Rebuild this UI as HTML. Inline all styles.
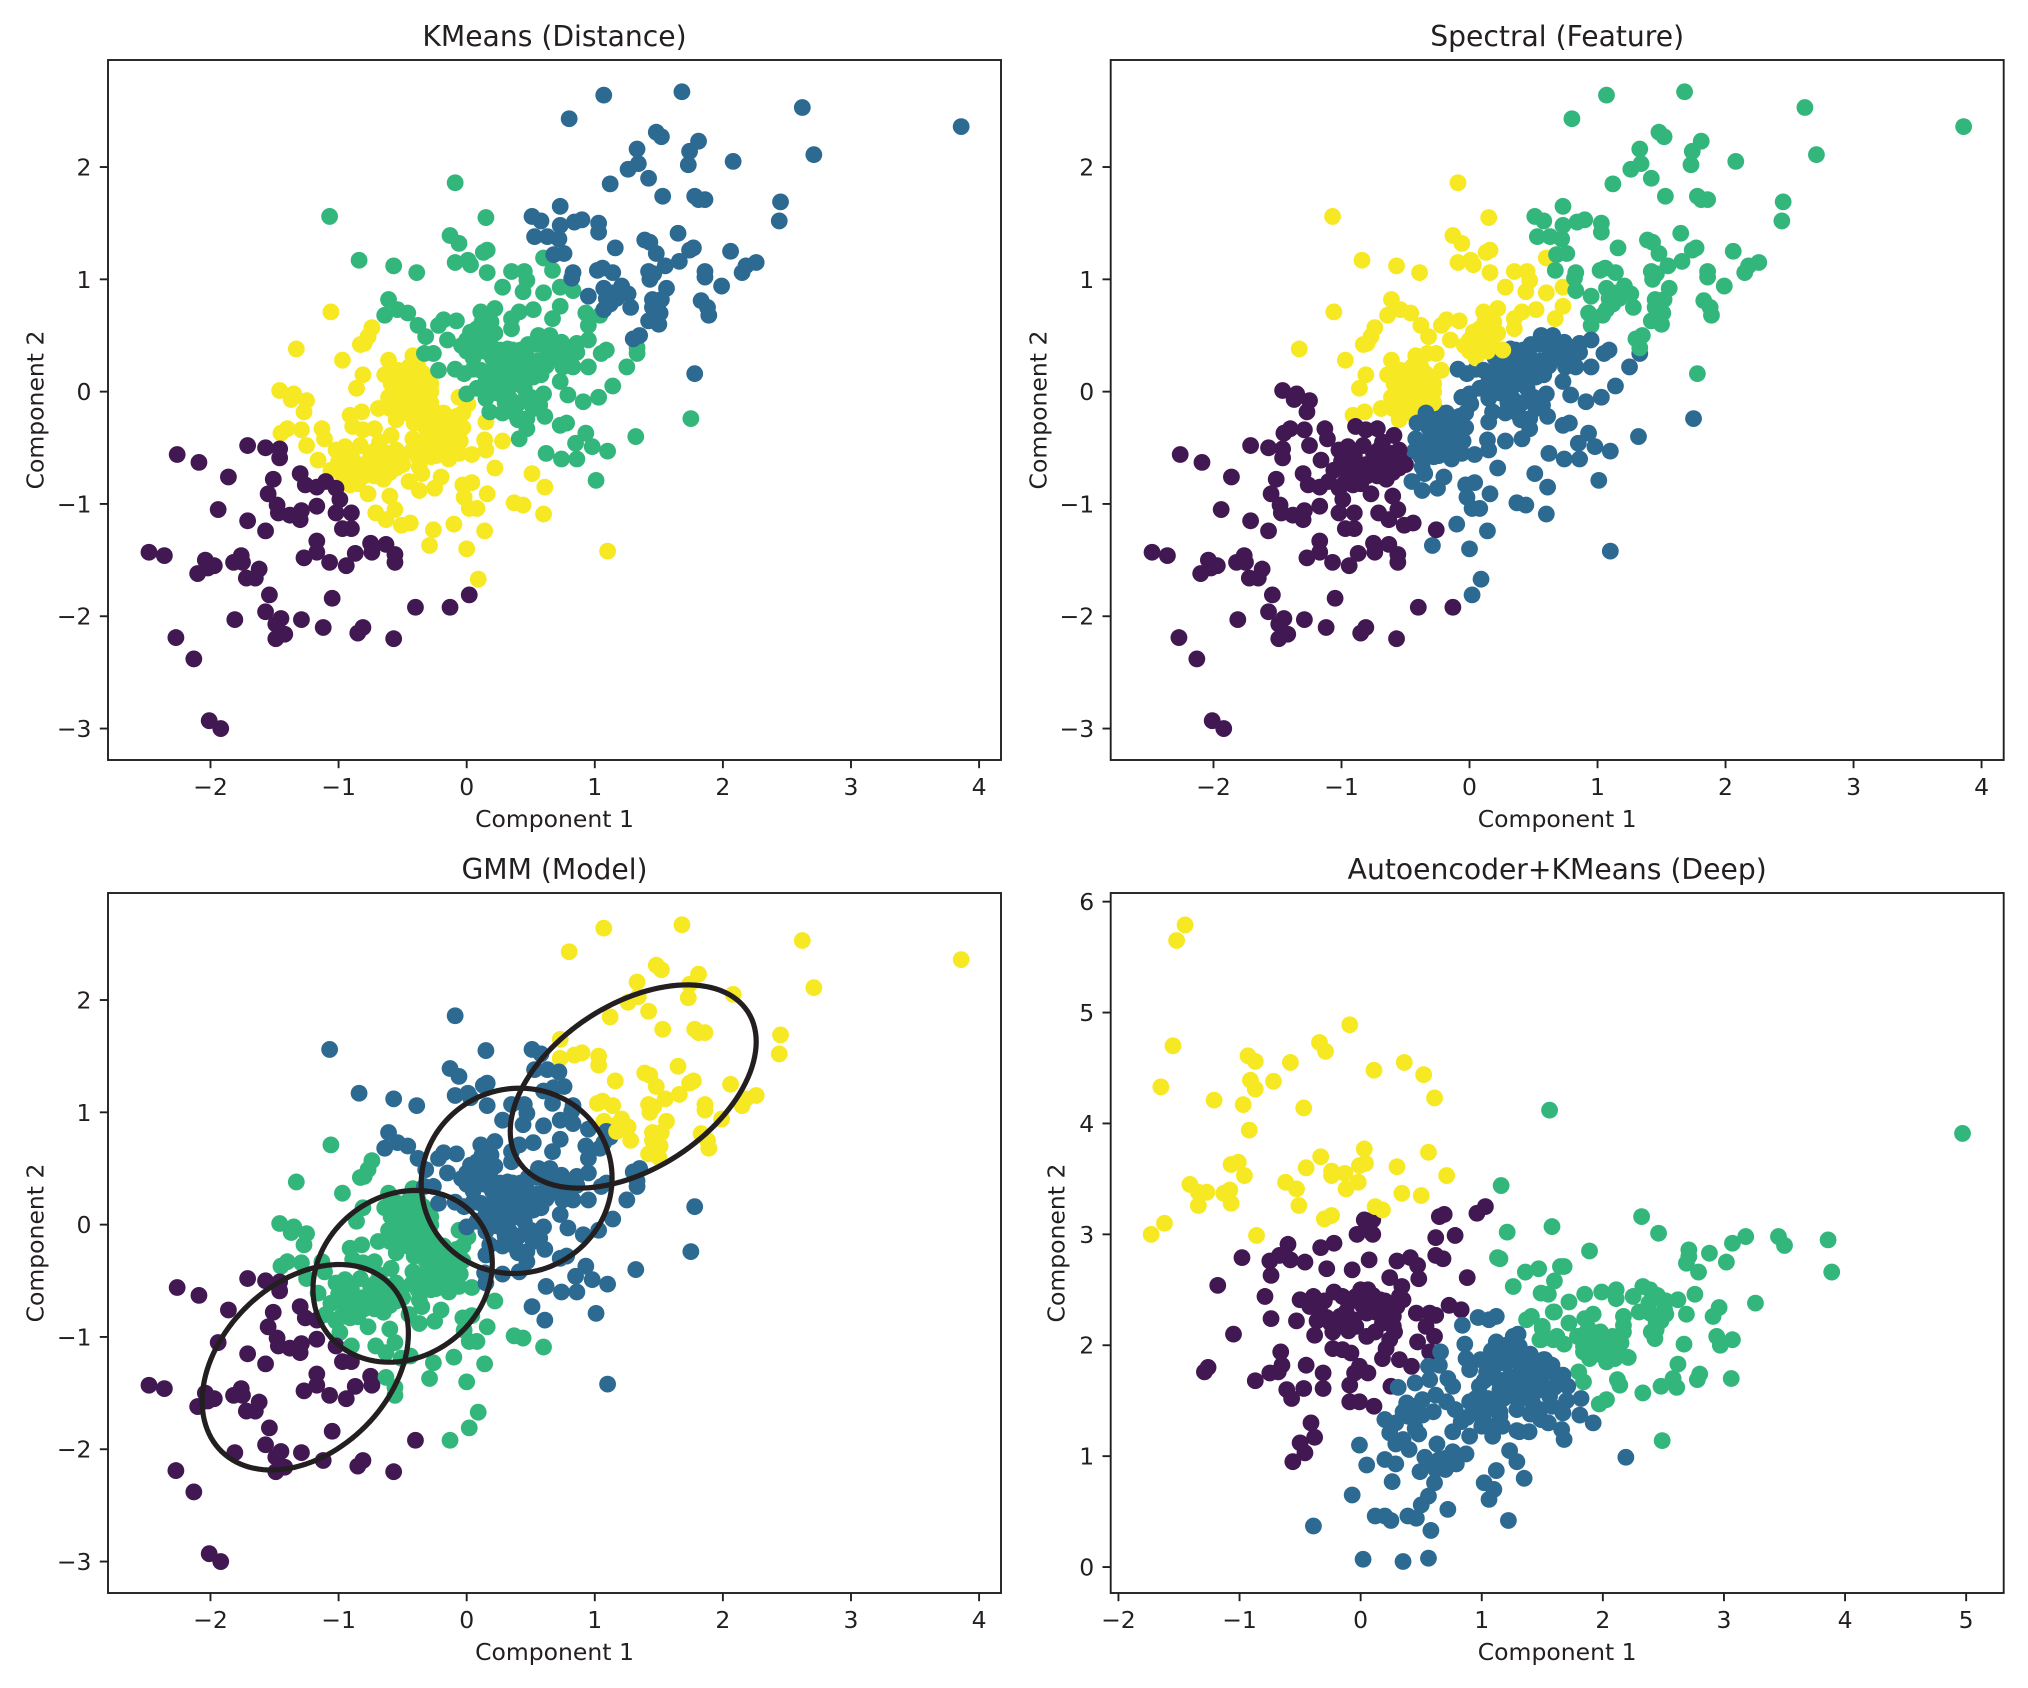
<!DOCTYPE html>
<html lang="en">
<head>
<meta charset="utf-8">
<title>Clustering comparison</title>
<style>
html,body{margin:0;padding:0;background:#fff;}
svg{display:block;}
text{font-family:"DejaVu Sans","Liberation Sans",sans-serif;fill:#231f20;}
</style>
</head>
<body>
<svg id="figure" width="2028" height="1688" viewBox="0 0 2028 1688" xmlns="http://www.w3.org/2000/svg"></svg>
<script>
const pointsX=[
-0.58,-0.50,-0.45,-0.38,-0.33,-0.28,-0.52,-0.42,-0.35,-0.47,-0.57,-0.50,-0.42,-0.31,-0.60,-0.55,
-0.30,-0.25,-0.15,-0.20,-0.12,-0.30,-0.18,-0.03,-0.06,-0.28,-0.36,-0.38,-0.14,
-0.62,-0.68,-0.75,-0.80,-0.88,-0.58,-0.52,-0.92,-1.00,-0.98,-0.85,-0.65,-0.75,-0.68,-0.90,
0.20,0.27,0.36,0.45,0.22,0.12,0.33,0.45,0.50,0.30,0.38,0.47,0.52,0.55,0.62,0.42,0.48,0.65,0.70,0.80,0.15,0.05,
0.03,0.10,0.00,0.15,0.12,0.05,
1.15,1.12,1.45,1.48,
-1.06,-1.33,-0.74,-0.77,-0.83,-0.80,-0.97,-0.61,-0.42,-0.81,
-0.86,-0.64,-0.54,-0.42,-0.34,-0.59,-0.47,-0.37,-0.28,-0.61,
-0.52,-0.39,-0.28,-0.45,-0.50,-0.33,-0.38,-0.45,-0.55,-0.69,
-0.82,-0.91,-0.54,-0.46,-0.06,0.01,-0.03,-0.34,-0.18,-0.08,
-0.41,-0.26,-0.11,-0.16,-0.32,-0.22,-0.42,-0.30,-0.22,-0.05,
-0.43,-0.24,-0.09,0.04,-0.37,-0.35,-0.45,-0.37,-0.20,-0.25,
0.22,-0.03,0.04,-0.02,0.16,0.08,0.02,0.37,0.44,0.60,
-0.10,0.14,0.00,0.09,-0.29,0.15,0.14,0.15,0.28,0.51,
0.61,1.10,-0.89,-0.72,-0.81,-1.13,-1.11,-1.25,-1.27,-1.29,
-1.25,-0.59,-1.02,-0.95,-0.83,-0.71,-0.55,-1.16,-1.06,-0.91,
-0.81,-0.65,-0.55,-0.91,-0.77,-0.60,-0.71,-0.56,-0.63,-0.51,
-0.44,-0.26,-1.46,-1.35,-1.37,-1.40,-1.45,-0.62,-0.70,-0.85,
-0.72,-0.60,-0.95,-0.50,
-0.09,-1.07,0.15,-0.13,-0.06,0.16,0.13,-0.09,0.01,0.03,
0.16,-0.84,-0.57,-0.39,0.35,0.45,0.47,0.28,0.44,0.60,
0.67,0.60,0.73,0.83,0.52,0.73,0.67,0.93,1.04,0.95,
0.95,0.86,1.09,1.05,1.33,1.33,1.25,1.14,1.03,0.91,
0.79,0.95,0.83,0.75,0.73,1.32,0.93,0.85,0.98,1.10,
0.62,0.74,0.86,1.01,0.41,0.40,0.47,0.61,0.73,0.78,
0.60,0.57,0.18,0.28,0.41,0.26,0.00,0.08,-0.02,-0.09,
-0.22,0.11,0.19,0.31,0.36,0.32,0.47,0.58,0.52,0.39,
0.56,0.65,0.74,0.63,0.75,0.47,0.15,0.23,0.30,0.28,
0.36,0.55,0.86,1.75,0.00,0.05,0.08,0.11,0.22,0.19,
0.11,0.18,0.26,0.35,0.35,0.41,-0.61,-0.64,-0.54,-0.46,
-0.38,-0.32,-0.22,-0.18,-0.08,-0.15,-0.26,-0.33,-0.04,0.14,
0.22,
1.07,1.68,2.62,3.86,0.80,1.48,1.52,1.81,1.74,1.33,
2.71,2.08,1.34,1.26,1.73,1.42,1.12,1.53,1.78,1.81,
1.86,2.45,2.44,0.73,0.90,0.84,1.03,1.03,0.73,0.72,
1.39,1.43,1.65,1.16,1.48,1.77,1.74,2.06,0.76,1.55,
1.66,2.26,2.18,2.15,1.86,1.86,0.83,0.82,1.02,1.06,
1.14,1.42,1.43,1.46,1.99,1.07,1.21,1.26,1.56,0.95,
1.09,1.17,1.45,1.52,1.28,1.83,1.88,1.89,1.51,1.42,
1.50,1.07,1.35,1.30,1.78,0.51,0.58,0.53,0.63,0.68,
-2.26,-2.09,-1.71,-1.57,-1.46,-1.46,-1.86,-1.51,-1.30,-1.55,
-1.26,-1.17,-1.10,-1.02,-0.99,-1.48,-1.47,-1.38,-1.30,-1.29,
-1.17,-1.02,-0.90,-1.94,-1.71,-1.57,-0.97,-0.90,-1.17,-1.17,
-1.27,-0.75,-0.63,-0.56,-0.74,-0.87,-0.56,-1.07,-0.94,-2.48,
-2.36,-2.04,-1.97,-2.02,-2.10,-1.76,-1.82,-1.75,-1.62,-1.72,
-1.65,-1.54,-1.05,-1.57,-1.81,-1.45,-1.49,-1.29,-1.12,-1.42,
-1.49,-0.81,-0.85,-0.57,-0.40,-0.13,0.02,-2.27,-2.13,-2.01,
-1.92];
const pointsY=[
0.13,0.17,0.22,0.22,0.10,0.07,0.05,0.04,-0.02,-0.05,-0.08,-0.13,-0.15,-0.07,-0.15,-0.25,
-0.25,-0.18,-0.27,-0.37,-0.40,-0.42,-0.52,-0.32,-0.55,-0.58,-0.45,-0.58,-0.60,
-0.55,-0.68,-0.66,-0.75,-0.68,-0.62,-0.60,-0.72,-0.62,-0.82,-0.82,-0.78,-0.55,-0.45,-0.57,
0.30,0.13,0.16,0.12,0.12,0.02,-0.05,0.03,-0.05,-0.10,-0.20,-0.33,-0.15,0.27,0.23,0.37,0.42,0.42,0.30,0.30,-0.06,0.20,
0.53,0.40,0.36,0.50,0.62,0.30,
0.88,0.78,0.75,0.65,
0.71,0.38,0.57,0.49,0.42,0.43,0.28,0.28,0.32,0.15,
0.03,0.15,0.19,0.16,0.16,0.07,0.07,0.07,0.00,-0.05,
-0.02,-0.05,-0.10,-0.10,0.12,-0.03,-0.12,0.00,0.02,-0.15,
-0.18,-0.21,-0.22,-0.19,-0.05,-0.11,-0.19,-0.19,-0.19,-0.22,
-0.28,-0.42,-0.31,-0.43,-0.32,-0.28,-0.42,-0.50,-0.48,-0.44,
-0.53,-0.57,-0.53,-0.56,-0.67,-0.73,-0.80,-0.88,-0.76,-0.86,
-0.68,-0.83,-0.81,-0.94,-0.91,-1.04,-1.04,-0.99,-1.01,-1.09,
-1.18,-1.24,-1.40,-1.67,-1.37,-0.27,-0.43,-0.52,-0.44,-0.73,
-0.85,-1.42,-0.31,-0.33,-0.34,-0.33,-0.42,-0.08,-0.18,-0.34,
-0.48,-0.39,-0.52,-0.49,-0.48,-0.52,-0.52,-0.61,-0.70,-0.65,
-0.65,-0.67,-0.68,-0.83,-0.91,-0.93,-1.08,-1.05,-1.14,-1.19,
-1.17,-1.23,0.01,-0.02,-0.07,-0.33,-0.37,-0.62,-0.60,-0.72,
-0.75,-0.72,-0.75,-0.65,
1.86,1.56,1.55,1.39,1.32,1.26,1.24,1.15,1.17,1.13,
1.06,1.17,1.12,1.06,1.07,1.07,0.99,0.93,0.89,1.19,
1.08,0.88,0.93,0.90,0.73,0.76,0.65,0.70,0.68,0.59,
0.46,0.43,0.37,0.34,0.34,0.39,0.22,0.05,-0.05,-0.09,
-0.03,0.22,0.22,0.22,0.09,-0.40,-0.37,-0.46,-0.49,-0.53,
-0.55,-0.60,-0.60,-0.79,-0.42,-0.25,-0.24,-0.22,-0.30,-0.28,
-0.02,-0.12,-0.18,-0.19,-0.10,-0.02,-0.02,0.03,0.16,0.20,
0.19,0.19,0.18,0.19,0.37,0.38,0.22,0.15,0.13,0.07,
0.50,0.50,0.44,0.34,0.37,0.31,0.09,-0.01,0.08,0.25,
0.27,0.42,0.35,-0.24,0.46,0.37,0.56,0.71,0.74,0.62,
0.47,0.43,0.37,0.65,0.56,0.71,0.82,0.68,0.73,0.70,
0.59,0.49,0.59,0.64,0.63,0.46,0.34,0.34,0.41,0.36,
0.52,
2.64,2.67,2.53,2.36,2.43,2.31,2.27,2.23,2.14,2.16,
2.11,2.05,2.03,1.98,2.02,1.90,1.85,1.74,1.74,1.71,
1.71,1.69,1.52,1.65,1.53,1.51,1.50,1.42,1.48,1.36,
1.35,1.33,1.41,1.28,1.23,1.28,1.26,1.25,1.23,1.12,
1.16,1.15,1.12,1.06,1.07,1.02,1.06,1.01,1.08,1.10,
1.06,1.07,1.00,1.05,0.94,0.92,0.94,0.87,0.92,0.85,
0.83,0.83,0.82,0.82,0.75,0.81,0.75,0.68,0.70,0.63,
0.60,0.73,0.50,0.47,0.16,1.56,1.52,1.38,1.38,1.22,
-0.56,-0.63,-0.48,-0.50,-0.51,-0.59,-0.76,-0.78,-0.73,-0.91,
-0.83,-0.85,-0.80,-0.86,-0.96,-1.01,-1.08,-1.10,-1.14,-1.06,
-1.02,-1.08,-1.08,-1.05,-1.15,-1.24,-1.22,-1.22,-1.33,-1.43,
-1.48,-1.35,-1.36,-1.45,-1.43,-1.44,-1.52,-1.52,-1.55,-1.43,
-1.46,-1.50,-1.55,-1.57,-1.62,-1.46,-1.52,-1.52,-1.58,-1.66,
-1.66,-1.81,-1.84,-1.96,-2.03,-2.02,-2.07,-2.03,-2.10,-2.16,
-2.20,-2.10,-2.15,-2.20,-1.92,-1.92,-1.81,-2.19,-2.38,-2.93,
-3.00];
const labelsKMeans=[
3,3,3,3,3,3,3,3,3,3,3,3,3,3,3,3,
3,3,3,3,3,3,3,3,3,3,3,3,3,
3,3,3,3,3,3,3,3,3,3,3,3,3,3,3,
2,2,2,2,2,2,2,2,2,2,2,2,2,2,2,2,2,2,2,2,2,2,
2,2,2,2,2,2,
1,1,1,1,
3,3,3,3,3,3,3,3,3,3,
3,3,3,3,3,3,3,3,3,3,
3,3,3,3,3,3,3,3,3,3,
3,3,3,3,3,3,3,3,3,3,
3,3,3,3,3,3,3,3,3,3,
3,3,3,3,3,3,3,3,3,3,
3,3,3,3,3,3,3,3,3,3,
3,3,3,3,3,3,3,3,3,3,
3,3,3,3,3,3,3,3,3,3,
3,3,3,3,3,3,3,3,3,3,
3,3,3,3,3,3,3,3,3,3,
3,3,3,3,3,3,3,3,3,3,
3,3,3,3,
2,2,2,2,2,2,2,2,2,2,
2,2,2,2,2,2,2,2,2,2,
2,2,2,2,2,2,2,2,2,2,
2,2,2,2,2,2,2,2,2,2,
2,2,2,2,2,2,2,2,2,2,
2,2,2,2,2,2,2,2,2,2,
2,2,2,2,2,2,2,2,2,2,
2,2,2,2,2,2,2,2,2,2,
2,2,2,2,2,2,2,2,2,2,
2,2,2,2,2,2,2,2,2,2,
2,2,2,2,2,2,2,2,2,2,
2,2,2,2,2,2,2,2,2,2,
2,
1,1,1,1,1,1,1,1,1,1,
1,1,1,1,1,1,1,1,1,1,
1,1,1,1,1,1,1,1,1,1,
1,1,1,1,1,1,1,1,1,1,
1,1,1,1,1,1,1,1,1,1,
1,1,1,1,1,1,1,1,1,1,
1,1,1,1,1,1,1,1,1,1,
1,1,1,1,1,1,1,1,1,1,
0,0,0,0,0,0,0,0,0,0,
0,0,0,0,0,0,0,0,0,0,
0,0,0,0,0,0,0,0,0,0,
0,0,0,0,0,0,0,0,0,0,
0,0,0,0,0,0,0,0,0,0,
0,0,0,0,0,0,0,0,0,0,
0,0,0,0,0,0,0,0,0,0,
0];
const labelsSpectral=[
3,3,3,3,3,3,3,3,3,3,3,3,3,3,3,3,
1,1,1,1,1,1,1,1,1,1,1,1,1,
0,0,0,0,0,0,0,0,0,0,0,0,0,0,0,
1,1,1,1,1,1,1,1,1,1,1,1,1,1,1,1,1,1,1,1,1,1,
3,3,3,3,3,3,
2,2,2,2,
3,3,3,3,3,3,3,3,3,3,
3,3,3,3,3,3,3,3,3,3,
3,3,3,3,3,3,3,3,3,3,
3,3,3,3,1,1,1,1,1,1,
1,1,1,1,1,1,1,1,1,1,
1,1,1,1,1,1,1,1,1,1,
1,1,1,1,1,1,1,1,1,1,
1,1,1,1,1,1,1,1,1,1,
1,1,0,0,0,0,0,0,0,0,
0,0,0,0,0,0,0,0,0,0,
0,0,0,0,0,0,0,0,0,0,
0,0,0,0,0,0,0,0,0,0,
0,0,0,0,
3,3,3,3,3,3,3,3,3,3,
3,3,3,3,3,3,3,3,3,3,
2,3,3,2,3,3,3,2,2,2,
1,1,1,1,1,2,1,1,1,1,
1,1,1,1,1,1,1,1,1,1,
1,1,1,1,1,1,1,1,1,1,
1,1,1,1,1,1,1,1,1,1,
3,1,1,1,1,1,1,1,1,1,
1,1,1,1,1,1,1,1,1,1,
1,1,1,1,3,3,3,3,3,3,
3,3,3,3,3,3,3,3,3,3,
3,3,3,3,3,3,3,3,3,3,
3,
2,2,2,2,2,2,2,2,2,2,
2,2,2,2,2,2,2,2,2,2,
2,2,2,2,2,2,2,2,2,2,
2,2,2,2,2,2,2,2,2,2,
2,2,2,2,2,2,2,2,2,2,
2,2,2,2,2,2,2,2,2,2,
2,2,2,2,2,2,2,2,2,2,
2,2,2,2,2,2,2,2,2,2,
0,0,0,0,0,0,0,0,0,0,
0,0,0,0,0,0,0,0,0,0,
0,0,0,0,0,0,0,0,0,0,
0,0,0,0,0,0,0,0,0,0,
0,0,0,0,0,0,0,0,0,0,
0,0,0,0,0,0,0,0,0,0,
0,0,0,0,0,0,1,0,0,0,
0];
const labelsGMM=[
2,2,2,2,2,2,2,2,2,2,2,2,2,2,2,2,
2,2,2,2,2,2,2,2,2,2,2,2,2,
2,2,2,2,2,2,2,2,2,2,2,2,2,2,2,
1,1,1,1,1,1,1,1,1,1,1,1,1,1,1,1,1,1,1,1,1,1,
1,1,1,1,1,1,
3,1,3,3,
2,2,2,2,2,2,2,2,2,2,
2,2,2,2,2,2,2,2,2,2,
2,2,2,2,2,2,2,2,2,2,
2,2,2,2,2,2,2,2,2,2,
2,2,2,2,2,2,2,2,2,2,
2,2,2,2,2,2,2,2,2,2,
2,2,2,2,2,2,2,2,2,2,
2,2,2,2,2,1,1,1,1,1,
1,1,2,2,2,2,2,2,2,2,
2,2,2,2,2,2,2,2,2,2,
2,2,2,2,2,2,2,2,2,2,
2,2,2,2,2,2,2,2,2,2,
2,2,2,2,
1,1,1,1,1,1,1,1,1,1,
1,1,1,1,1,1,1,1,1,1,
1,1,1,1,1,1,1,1,1,1,
1,1,1,1,1,1,1,1,1,1,
1,1,1,1,1,1,1,1,1,1,
1,1,1,1,1,1,1,1,1,1,
1,1,1,1,1,1,1,1,1,1,
1,1,1,1,1,1,1,1,1,1,
1,1,1,1,1,1,1,1,1,1,
1,1,1,1,1,1,1,1,1,1,
1,1,1,1,1,1,1,1,1,1,
1,1,1,1,1,1,1,1,1,1,
1,
3,3,3,3,3,3,3,3,3,3,
3,3,3,3,3,3,3,3,3,3,
3,3,3,3,3,3,3,3,3,1,
3,3,3,3,3,3,3,3,1,3,
3,3,3,3,3,3,1,1,3,3,
3,3,3,3,3,3,3,3,3,1,
1,3,3,3,3,3,3,3,3,3,
3,1,1,1,1,1,1,1,1,1,
0,0,0,0,0,0,0,0,0,0,
0,0,2,2,2,0,0,0,0,0,
0,0,2,0,0,0,0,0,0,0,
0,0,2,2,0,0,2,0,0,0,
0,0,0,0,0,0,0,0,0,0,
0,0,0,0,0,0,0,0,0,0,
0,0,0,0,0,2,2,0,0,0,
0];

const deepPurpleX=[-0.30,-0.10,0.00,0.10,0.20,-0.28,-0.12,0.02,0.12,0.22,0.30,-0.18,-0.10,0.12,0.24,-0.36,0.28,0.06,-0.42,-0.22,0.03,0.10,0.05,-0.03,0.10,0.69,0.65,1.03,0.96,0.62,0.78,-0.22,-0.33,-0.60,-0.67,-0.58,-0.98,-0.75,-0.46,-0.74,-0.28,-0.07,0.07,0.30,0.41,0.47,0.62,0.68,0.24,0.48,0.34,0.88,-1.18,-0.79,-0.50,-0.39,-0.74,-0.53,-1.05,-0.38,-0.34,-0.25,-0.17,-0.06,0.05,-0.04,0.05,0.16,-0.15,-0.23,0.05,-0.04,0.27,0.27,0.18,0.32,0.35,0.46,0.57,0.62,0.73,0.83,0.54,0.61,0.47,0.21,0.18,0.32,0.42,0.57,-0.23,-0.08,-0.15,-0.01,0.06,-0.05,-0.09,-0.66,-0.65,-0.75,-0.68,-0.87,-0.45,-0.31,-0.31,-0.61,-0.57,-0.47,-0.09,-0.01,0.11,0.25,-0.41,-0.38,-0.50,-0.46,-0.56,-1.26,-1.29];
const deepPurpleY=[2.40,2.38,2.50,2.45,2.40,2.25,2.30,2.35,2.30,2.30,2.35,2.18,2.13,2.12,2.05,2.22,2.12,2.50,2.35,2.48,3.13,3.13,3.07,3.00,3.00,3.18,3.16,3.25,3.19,2.97,2.99,2.92,2.88,2.91,2.81,2.77,2.79,2.76,2.75,2.63,2.69,2.68,2.77,2.76,2.79,2.72,2.81,2.78,2.61,2.60,2.53,2.61,2.54,2.44,2.41,2.44,2.24,2.22,2.10,2.09,2.32,2.20,2.26,2.23,2.29,2.44,2.41,2.41,2.44,2.12,2.08,2.17,2.26,2.17,2.20,2.44,2.41,2.29,2.29,2.27,2.36,2.32,2.17,2.08,2.03,1.97,1.88,1.87,1.81,1.94,1.97,1.93,1.96,1.81,1.75,1.75,1.64,1.94,1.82,1.75,1.76,1.68,1.82,1.75,1.61,1.60,1.52,1.61,1.49,1.49,1.45,1.63,1.30,1.17,1.12,1.03,0.95,1.80,1.76];

const deepGreenX=[1.88,1.98,2.02,1.95,2.10,2.45,2.52,2.38,2.48,2.52,2.40,1.85,1.92,2.15,2.30,1.56,1.16,1.21,1.58,1.13,2.32,2.46,2.71,2.71,2.69,2.79,2.88,3.02,3.07,3.18,3.45,3.50,3.86,3.89,3.26,1.89,1.15,1.47,1.36,1.68,1.60,1.26,1.49,1.55,1.72,1.60,1.85,1.99,2.11,2.11,2.25,2.33,2.39,2.47,2.62,2.76,2.96,2.91,2.69,2.51,2.39,2.44,2.17,2.17,1.92,1.85,1.41,1.37,1.72,1.50,1.62,1.48,1.79,1.68,1.84,1.95,2.08,2.17,1.84,1.89,2.03,2.07,2.12,2.21,2.44,2.43,2.67,2.94,2.97,3.07,2.62,2.80,2.78,3.06,1.80,1.84,2.12,2.14,2.33,2.48,2.58,2.61,2.03,1.97,2.49,1.65,1.59,1.50,1.59,1.49,4.97];
const deepGreenY=[2.15,2.12,1.98,1.92,1.88,2.45,2.40,2.38,2.22,2.28,2.12,2.10,1.98,2.02,2.30,4.12,3.44,3.02,3.07,2.79,3.16,3.01,2.86,2.80,2.74,2.66,2.83,2.75,2.92,2.98,2.98,2.90,2.95,2.66,2.38,2.85,2.78,2.69,2.66,2.71,2.58,2.53,2.47,2.46,2.39,2.30,2.46,2.48,2.50,2.42,2.44,2.53,2.50,2.42,2.41,2.46,2.34,2.26,2.28,2.32,2.29,2.21,2.26,2.18,2.28,2.24,2.26,2.23,2.20,2.17,2.08,2.05,2.08,2.01,1.99,2.05,2.08,2.12,1.94,1.88,1.85,1.99,1.96,1.89,2.14,2.06,2.01,2.08,2.00,2.05,1.83,1.74,1.69,1.70,1.76,1.67,1.69,1.64,1.57,1.63,1.70,1.62,1.51,1.47,1.14,2.71,2.30,2.15,2.05,2.05,3.91];

const deepYellowX=[-1.45,-1.52,-1.55,-1.65,-0.09,-0.34,-0.29,-0.93,-0.87,-0.58,-0.72,-0.91,-0.87,0.11,0.36,0.52,0.61,-1.21,-0.97,-0.47,-0.92,0.03,-0.33,0.56,0.71,-1.01,-1.07,-0.96,-0.45,-0.24,-0.24,-0.13,0.04,-0.01,-0.02,0.30,-1.41,-1.27,-1.34,-1.08,-1.13,-1.07,-1.34,-0.62,-0.53,-0.12,-0.51,0.34,0.50,0.12,0.18,-0.30,-0.24,-1.62,-1.73,-0.86];
const deepYellowY=[5.79,5.65,4.70,4.33,4.89,4.73,4.65,4.61,4.56,4.55,4.38,4.39,4.31,4.48,4.55,4.44,4.23,4.21,4.17,4.14,3.94,3.77,3.70,3.74,3.53,3.65,3.63,3.53,3.60,3.57,3.53,3.55,3.64,3.62,3.47,3.61,3.45,3.38,3.38,3.40,3.37,3.28,3.26,3.47,3.41,3.41,3.26,3.37,3.35,3.25,3.22,3.14,3.17,3.10,3.00,2.99];

const deepBlueX=[1.08,1.18,1.28,1.40,1.45,1.10,1.28,1.38,1.50,1.58,1.02,1.12,1.20,1.35,1.05,1.18,1.30,1.42,1.58,0.95,1.05,1.15,0.88,1.00,1.12,1.40,1.55,1.60,1.70,0.62,0.58,0.70,0.70,0.45,0.35,0.35,0.45,0.60,0.62,0.97,1.06,1.12,0.84,0.86,1.30,1.12,1.20,1.31,0.66,0.87,0.99,1.12,0.90,1.04,1.20,1.34,1.52,1.62,0.56,0.65,0.72,0.76,0.45,0.57,0.31,0.98,1.15,1.26,1.48,1.56,0.51,0.38,0.71,0.90,1.09,1.29,1.42,0.78,0.96,1.48,0.51,0.39,0.20,0.29,0.83,1.01,1.17,1.29,1.39,0.76,0.90,1.09,0.24,0.48,0.29,0.40,-0.01,0.63,1.23,1.29,0.76,0.87,0.53,0.65,0.79,0.20,0.29,0.49,0.05,1.12,0.61,0.26,1.02,1.10,1.06,1.35,0.56,0.50,-0.07,0.72,0.12,0.20,0.25,0.39,0.46,1.22,-0.39,0.58,0.02,0.35,0.56,1.51,1.67,1.71,1.82,1.92,1.81,1.67,1.68,1.66,1.49,1.31,1.39,2.19,1.55,1.42,1.26,1.15,1.31,1.23,1.31,1.48,1.15];
const deepBlueY=[1.95,1.93,1.90,1.92,1.80,1.82,1.72,1.72,1.72,1.82,1.68,1.70,1.62,1.62,1.52,1.52,1.50,1.55,1.45,1.52,1.42,1.40,1.35,1.27,1.28,1.38,1.30,1.62,1.50,0.88,0.92,0.98,0.88,1.25,1.15,1.40,1.45,1.40,1.55,2.25,2.23,2.26,2.18,2.01,2.10,2.03,2.00,1.99,1.94,1.88,1.87,1.90,1.78,1.76,1.84,1.81,1.87,1.73,1.81,1.82,1.70,1.63,1.66,1.69,1.62,1.63,1.60,1.60,1.60,1.54,1.51,1.48,1.49,1.49,1.48,1.42,1.48,1.42,1.39,1.34,1.37,1.36,1.33,1.30,1.31,1.33,1.27,1.23,1.22,1.22,1.18,1.18,1.21,1.20,1.11,1.06,1.10,1.11,1.05,0.95,1.04,1.02,0.99,0.97,0.93,0.97,0.93,0.86,0.92,0.87,0.76,0.77,0.76,0.70,0.61,0.80,0.64,0.56,0.65,0.52,0.46,0.46,0.42,0.46,0.44,0.42,0.37,0.33,0.07,0.05,0.08,1.87,1.73,1.63,1.52,1.30,1.37,1.39,1.15,1.24,1.33,1.22,1.22,0.99,1.60,1.66,2.08,1.84,1.84,1.72,1.57,1.42,1.36];

const gmmCenterX=[-1.26,-0.50,0.39,1.30];
const gmmCenterY=[-1.27,-0.46,0.39,1.23];
const gmmHalfX=[0.805,0.70,0.745,0.96];
const gmmHalfY=[0.915,0.765,0.825,0.905];
const gmmCorr=[0.33,0.15,0.03,0.44];

const sharedXTicks=[-2,-1,0,1,2,3,4];
const sharedYTicks=[-3,-2,-1,0,1,2];
const deepXTicks=[-2,-1,0,1,2,3,4,5];
const deepYTicks=[0,1,2,3,4,5,6];

const clusterColors=['#421853','#2d6a92','#33b67c','#f6e822'];
const inkColor='#231f20';
const svg=document.getElementById('figure');
const NS='http://www.w3.org/2000/svg';

function node(tag,attrs,parent){
  const el=document.createElementNS(NS,tag);
  for(const k in attrs){el.setAttribute(k,attrs[k]);}
  (parent||svg).appendChild(el);
  return el;
}
function tickText(v){return (v<0?'\u2212':'')+Math.abs(v);}

function drawAxes(p){
  const g=node('g',{});
  
  
  const sx=v=>p.left+(v-p.xMin)/(p.xMax-p.xMin)*(p.right-p.left);
  const sy=v=>p.bottom-(v-p.yMin)/(p.yMax-p.yMin)*(p.bottom-p.top);
  p.sx=sx;p.sy=sy;p.g=g;

  const title=node('text',{x:(p.left+p.right)/2,y:p.top-14,'text-anchor':'middle','font-size':'28.2'},g);
  title.textContent=p.title;
  
  

  p.xTicks.forEach(v=>{
    const t=node('line',{x1:sx(v),x2:sx(v),y1:p.bottom,y2:p.bottom+8.2,stroke:inkColor,'stroke-width':'1.9'},g);
    
    
    const l=node('text',{x:sx(v),y:p.bottom+35,'text-anchor':'middle','font-size':'23.5'},g);
    l.textContent=tickText(v);
    
    
  });
  p.yTicks.forEach(v=>{
    const t=node('line',{x1:p.left-8.2,x2:p.left,y1:sy(v),y2:sy(v),stroke:inkColor,'stroke-width':'1.9'},g);
    
    
    const l=node('text',{x:p.left-16.5,y:sy(v)+8.5,'text-anchor':'end','font-size':'23.5'},g);
    l.textContent=tickText(v);
    
    
  });

  const xl=node('text',{x:(p.left+p.right)/2,y:p.bottom+67,'text-anchor':'middle','font-size':'23.5'},g);
  xl.textContent='Component 1';
  
  
  const yc=(p.top+p.bottom)/2;
  const yl=node('text',{x:p.yLabelX,y:yc,'text-anchor':'middle','font-size':'23.5',transform:'rotate(-90 '+p.yLabelX+' '+yc+')'},g);
  yl.textContent='Component 2';
  
  
}

function drawFrame(p){
  const f=node('rect',{x:p.left,y:p.top,width:p.right-p.left,height:p.bottom-p.top,fill:'none',stroke:inkColor,'stroke-width':'1.9'},p.g);
  
  
}

function drawPoint(p,x,y,label){
  const c=node('circle',{cx:p.sx(x),cy:p.sy(y),r:'8.4',fill:clusterColors[label]},p.g);
  
  
}

const panelKMeans={name:'kmeans-panel',title:'KMeans (Distance)',left:108,right:1001,top:60,bottom:760,xMin:-2.80,xMax:4.171,yMin:-3.28,yMax:2.953,xTicks:sharedXTicks,yTicks:sharedYTicks,yLabelX:43.5};
const panelSpectral={name:'spectral-panel',title:'Spectral (Feature)',left:1110.7,right:2003.7,top:60,bottom:760,xMin:-2.803,xMax:4.173,yMin:-3.28,yMax:2.953,xTicks:sharedXTicks,yTicks:sharedYTicks,yLabelX:1046.5};
const panelGMM={name:'gmm-panel',title:'GMM (Model)',left:108,right:1001,top:893,bottom:1593,xMin:-2.80,xMax:4.171,yMin:-3.28,yMax:2.953,xTicks:sharedXTicks,yTicks:sharedYTicks,yLabelX:43.5};
const panelDeep={name:'autoencoder-panel',title:'Autoencoder+KMeans (Deep)',left:1110.7,right:2003.7,top:893,bottom:1593,xMin:-2.064,xMax:5.31,yMin:-0.234,yMax:6.078,xTicks:deepXTicks,yTicks:deepYTicks,yLabelX:1064.5};

[[panelKMeans,labelsKMeans],[panelSpectral,labelsSpectral],[panelGMM,labelsGMM]].forEach(pair=>{
  const p=pair[0];
  drawAxes(p);
  pointsX.forEach((x,i)=>drawPoint(p,x,pointsY[i],pair[1][i]));
});

gmmCenterX.forEach((cx,i)=>{
  const hx=gmmHalfX[i],hy=gmmHalfY[i],r=gmmCorr[i],cy=gmmCenterY[i];
  let d='';
  for(let k=0;k<=120;k++){
    const t=k/120*Math.PI*2;
    const px=panelGMM.sx(cx+hx*Math.cos(t));
    const py=panelGMM.sy(cy+hy*(r*Math.cos(t)+Math.sqrt(1-r*r)*Math.sin(t)));
    d+=(k?'L':'M')+px.toFixed(2)+' '+py.toFixed(2);
  }
  const e=node('path',{d:d+'Z',fill:'none',stroke:inkColor,'stroke-width':'5.2'},panelGMM.g);
  
  
});

drawAxes(panelDeep);
deepPurpleX.forEach((x,i)=>drawPoint(panelDeep,x,deepPurpleY[i],0));
deepGreenX.forEach((x,i)=>drawPoint(panelDeep,x,deepGreenY[i],2));
deepYellowX.forEach((x,i)=>drawPoint(panelDeep,x,deepYellowY[i],3));
deepBlueX.forEach((x,i)=>drawPoint(panelDeep,x,deepBlueY[i],1));

[panelKMeans,panelSpectral,panelGMM,panelDeep].forEach(drawFrame);
</script>
</body>
</html>
